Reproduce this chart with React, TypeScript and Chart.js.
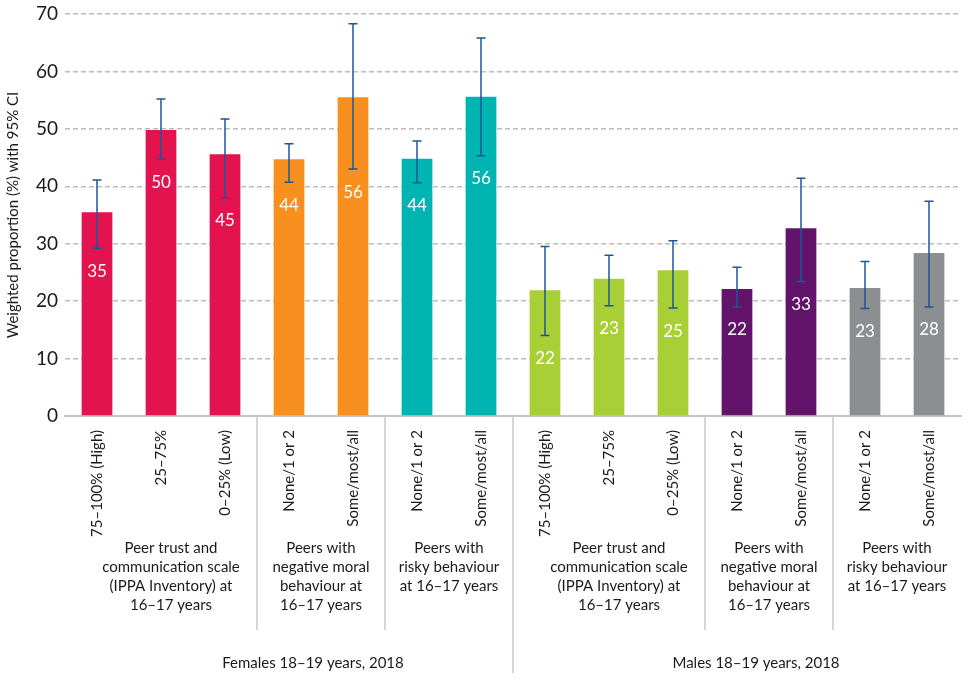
import React, { useEffect, useRef } from "react";
import { Chart, registerables } from "chart.js";

Chart.register(...registerables);

const categories = [
  "75–100% (High)", "25–75%", "0–25% (Low)", "None/1 or 2", "Some/most/all", "None/1 or 2", "Some/most/all",
  "75–100% (High)", "25–75%", "0–25% (Low)", "None/1 or 2", "Some/most/all", "None/1 or 2", "Some/most/all",
];
const values = [35.5, 49.8, 45.6, 44.7, 55.5, 44.8, 55.6, 21.9, 23.9, 25.4, 22.1, 32.7, 22.3, 28.4];
const ciLow = [29.2, 44.7, 38.0, 40.7, 43.0, 40.6, 45.3, 14.0, 19.2, 18.8, 19.0, 23.4, 18.7, 19.0];
const ciHigh = [41.1, 55.2, 51.7, 47.4, 68.3, 47.9, 65.8, 29.5, 28.0, 30.5, 25.9, 41.4, 26.9, 37.4];
const valueLabels = ["35", "50", "45", "44", "56", "44", "56", "22", "23", "25", "22", "33", "23", "28"];
const barColors = [
  "#E2134F", "#E2134F", "#E2134F", "#F7901E", "#F7901E", "#00B5B1", "#00B5B1",
  "#A9CF37", "#A9CF37", "#A9CF37", "#62136A", "#62136A", "#8B8F92", "#8B8F92",
];
const yTicks = [0, 10, 20, 30, 40, 50, 60, 70];
const groupSpans = [[0, 2], [3, 4], [5, 6], [7, 9], [10, 11], [12, 13]];
const groupLabels = [
  ["Peer trust and", "communication scale", "(IPPA Inventory) at", "16–17 years"],
  ["Peers with", "negative moral", "behaviour at", "16–17 years"],
  ["Peers with", "risky behaviour", "at 16–17 years"],
  ["Peer trust and", "communication scale", "(IPPA Inventory) at", "16–17 years"],
  ["Peers with", "negative moral", "behaviour at", "16–17 years"],
  ["Peers with", "risky behaviour", "at 16–17 years"],
];
const sexSpans = [[0, 6], [7, 13]];
const sexLabels = ["Females 18–19 years, 2018", "Males 18–19 years, 2018"];
const yTitle = "Weighted proportion (%) with 95% CI";

const FONT = "Lato, 'Open Sans', sans-serif";

const overlayPlugin = {
  id: "overlay",
  afterDatasetsDraw(chart: any) {
    const ctx = chart.ctx;
    const meta = chart.getDatasetMeta(0);
    const y = chart.scales.y;
    ctx.save();
    ctx.strokeStyle = "#1B5799";
    ctx.lineWidth = 1.5;
    meta.data.forEach((bar: any, i: number) => {
      const x = bar.x;
      const yl = y.getPixelForValue(ciLow[i]);
      const yh = y.getPixelForValue(ciHigh[i]);
      ctx.beginPath();
      ctx.moveTo(x, yl);
      ctx.lineTo(x, yh);
      ctx.moveTo(x - 4.5, yl);
      ctx.lineTo(x + 4.5, yl);
      ctx.moveTo(x - 4.5, yh);
      ctx.lineTo(x + 4.5, yh);
      ctx.stroke();
    });
    ctx.fillStyle = "#ffffff";
    ctx.font = `17px ${FONT}`;
    ctx.textAlign = "center";
    ctx.textBaseline = "middle";
    meta.data.forEach((bar: any, i: number) => {
      const yl = y.getPixelForValue(ciLow[i]);
      ctx.fillText(valueLabels[i], bar.x, yl + 23);
    });
    ctx.restore();
  },
  afterDraw(chart: any) {
    const ctx = chart.ctx;
    const meta = chart.getDatasetMeta(0);
    const area = chart.chartArea;
    const xs = meta.data.map((b: any) => b.x);
    const half = (xs[1] - xs[0]) / 2;
    const H = chart.height;
    ctx.save();
    ctx.strokeStyle = "#C8C8C8";
    ctx.lineWidth = 1.5;
    groupSpans.forEach((span, gi) => {
      if (gi === groupSpans.length - 1) return;
      const xd = xs[span[1]] + half;
      const isMain = sexSpans.some((s) => s[1] === span[1]);
      ctx.beginPath();
      ctx.moveTo(xd, area.bottom);
      ctx.lineTo(xd, isMain ? H - 8 : area.bottom + 214);
      ctx.stroke();
    });
    ctx.fillStyle = "#1a1a1a";
    ctx.font = `15px ${FONT}`;
    ctx.textAlign = "center";
    ctx.textBaseline = "middle";
    groupSpans.forEach((span, gi) => {
      const lines = groupLabels[gi];
      const extra = span[1] - span[0] === 2 ? 10 : 0;
      const cx = (xs[span[0]] + xs[span[1]]) / 2 + extra;
      lines.forEach((ln, li) => {
        ctx.fillText(ln, cx, area.bottom + 132 + li * 19);
      });
    });
    sexSpans.forEach((span, si) => {
      const cx = (xs[span[0]] + xs[span[1]]) / 2 + (si === 0 ? 24 : 19);
      ctx.fillText(sexLabels[si], cx, area.bottom + 247);
    });
    ctx.restore();
  },
};

export default function App() {
  const ref = useRef<HTMLCanvasElement>(null);
  useEffect(() => {
    if (!ref.current) return;
    const chart = new Chart(ref.current, {
      type: "bar",
      data: {
        labels: categories,
        datasets: [
          {
            data: values,
            backgroundColor: barColors,
            borderWidth: 0,
            categoryPercentage: 1,
            barPercentage: 0.48,
          },
        ],
      },
      options: {
        animation: false,
        responsive: false,
        maintainAspectRatio: false,
        layout: { padding: { top: 14, right: 15, left: 0, bottom: 0 } },
        plugins: { legend: { display: false }, tooltip: { enabled: false } },
        scales: {
          x: {
            grid: { display: false },
            border: { display: true, color: "#C4C4C4", width: 2 },
            ticks: {
              minRotation: 90,
              maxRotation: 90,
              autoSkip: false,
              padding: 6,
              color: "#1a1a1a",
              font: { family: FONT, size: 15 },
            },
            afterFit(scale: any) {
              scale.height = 265;
              scale.paddingLeft = 0;
              scale.paddingRight = 0;
            },
          },
          y: {
            min: 0,
            max: 70,
            afterBuildTicks(scale: any) {
              scale.ticks = yTicks.map((v) => ({ value: v }));
            },
            grid: {
              color: "#BDBDBD",
              lineWidth: 1.5,
              drawTicks: false,
            },
            border: { display: false, dash: [5, 3] },
            ticks: {
              padding: 7,
              color: "#1a1a1a",
              font: { family: FONT, size: 19 },
            },
            title: {
              display: true,
              text: yTitle,
              color: "#1a1a1a",
              font: { family: FONT, size: 15 },
              padding: { top: 4, bottom: 0 },
            },
            afterFit(scale: any) {
              scale.width = 65;
              scale.paddingTop = 0;
              scale.paddingBottom = 0;
            },
          },
        },
      },
      plugins: [overlayPlugin],
    });
    return () => chart.destroy();
  }, []);
  return (
    <div style={{ position: "absolute", left: 0, top: 0, width: 976, height: 681, background: "#fff" }}>
      <canvas ref={ref} width={976} height={681} style={{ width: 976, height: 681 }} />
    </div>
  );
}
